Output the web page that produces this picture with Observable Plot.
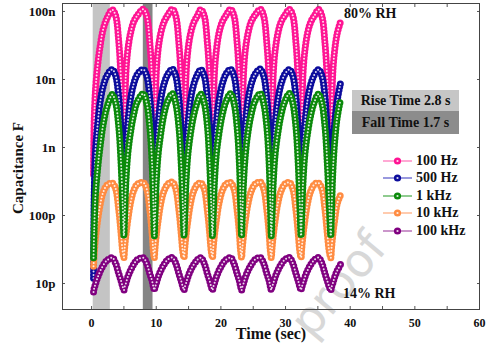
<!DOCTYPE html>
<html><head><meta charset="utf-8">
<script src="https://cdn.jsdelivr.net/npm/d3@7"></script>
<script src="https://cdn.jsdelivr.net/npm/@observablehq/plot@0.6"></script>
<style>
body{margin:0;background:#fff;}
#wrap{position:relative;width:496px;height:351px;overflow:hidden;font-family:"Liberation Serif","Times New Roman",serif;font-weight:bold;color:#111;}
#wm{position:absolute;left:338px;top:284px;transform:translate(-50%,-50%) rotate(-50deg);font-family:"DejaVu Sans",sans-serif;font-weight:normal;font-size:46px;color:#d8d8d8;white-space:nowrap;line-height:1;}
#chart{position:absolute;left:0;top:0;}
.lbl{position:absolute;white-space:nowrap;}
.box{position:absolute;left:352px;width:107px;text-align:center;font-size:14px;}
.leg{position:absolute;left:383px;height:16px;display:flex;align-items:center;font-size:14px;white-space:nowrap;}
</style></head><body>
<div id="wrap">
<div id="wm">proof</div>
<div id="chart"></div>
<div class="lbl" id="xlab" style="left:271px;top:325px;transform:translateX(-50%);font-size:16px;">Time (sec)</div>
<div class="lbl" id="ylab" style="left:18px;top:168px;transform:translate(-50%,-50%) rotate(-90deg);font-size:15px;">Capacitance F</div>
<div class="lbl" style="left:344px;top:6px;font-size:14px;">80% RH</div>
<div class="lbl" style="left:343px;top:286px;font-size:14px;">14% RH</div>
<div class="box" style="top:90px;height:21px;line-height:21px;background:#c6c6c6;">Rise Time 2.8 s</div>
<div class="box" style="top:111px;height:23px;line-height:23px;background:#8c8c8c;">Fall Time 1.7 s</div>
<div id="legend"></div>
</div>
<script>
// time (s), shared sampling of all five series
const time = [
 0.3,0.4,0.6,0.9,1.3,1.8,2.4,3.2,3.7,4.2,4.55,4.8,
 5.0,5.1,5.3,5.6,6.0,6.5,7.1,8.0,8.5,9.0,9.35,9.55,
 9.7,9.8,10.0,10.3,10.7,11.2,11.8,12.5,13.0,13.5,13.85,14.1,
 14.3,14.4,14.6,14.9,15.3,15.8,16.4,16.9,17.4,17.9,18.25,18.5,
 18.7,18.8,19.0,19.3,19.7,20.2,20.8,21.5,22.0,22.5,22.85,23.05,
 23.2,23.3,23.5,23.8,24.2,24.7,25.3,26.1,26.6,27.1,27.45,27.65,
 27.8,27.9,28.1,28.4,28.8,29.3,29.9,30.6,31.1,31.6,31.95,32.2,
 32.4,32.5,32.7,33.0,33.4,33.9,34.5,35.1,35.6,36.1,36.45,36.75,
 37.0,37.1,37.3,37.6,38.0,38.5];
// capacitance in nF
const hz100 = [
 0.4,2.5,7,15,30,55,80,106,88,36,10,2,
 0.15,1.5,12,27,47,70,88,108,88,35,10,2,
 0.15,1.6,12,28,48,70,89,108,87,34,10,2,
 0.15,1.5,11,27,47,69,88,107,88,35,11,2,
 0.15,1.5,12,27,48,70,88,108,88,35,10,2,
 0.15,1.6,12,28,48,71,89,108,87,34,10,2,
 0.15,1.5,12,27,47,70,88,107,88,35,10,2,
 0.15,1.5,12,27,48,70,88,107,87,34,10,2,
 0.15,1.5,12,27,48,70];
const hz500 = [
 0.012,0.2,0.9,2.0,4.5,8,11.5,14,11.5,5.5,1.8,0.5,
 0.06,0.35,1.0,2.3,5,8.5,12,14,11.5,5.5,1.8,0.5,
 0.06,0.36,1.0,2.3,5.1,8.6,12,14.2,11.4,5.4,1.8,0.5,
 0.06,0.35,1.0,2.2,5,8.5,12,14,11.5,5.5,1.9,0.5,
 0.06,0.35,1.0,2.3,5,8.5,12.1,14.1,11.5,5.5,1.8,0.5,
 0.06,0.36,1.0,2.3,5.1,8.6,12,14.2,11.4,5.4,1.8,0.5,
 0.06,0.35,1.0,2.3,5,8.5,12,14,11.5,5.5,1.8,0.5,
 0.06,0.35,1.0,2.3,5,8.5,12,14,11.5,5.5,1.8,0.5,
 0.06,0.35,1.0,2.3,5,8.8];
const khz1 = [
 0.024,0.06,0.2,0.45,1.0,2.2,4.0,6.0,4.6,2.0,0.6,0.15,
 0.05,0.09,0.3,0.8,1.6,3.0,4.8,6.2,4.6,2.0,0.6,0.15,
 0.05,0.09,0.3,0.8,1.6,3.1,4.9,6.2,4.5,2.0,0.6,0.15,
 0.05,0.09,0.3,0.8,1.6,3.0,4.8,6.1,4.6,2.1,0.6,0.15,
 0.05,0.09,0.3,0.8,1.6,3.0,4.8,6.2,4.6,2.0,0.6,0.15,
 0.05,0.09,0.3,0.8,1.7,3.1,4.9,6.2,4.5,2.0,0.6,0.15,
 0.05,0.09,0.3,0.8,1.6,3.0,4.8,6.2,4.6,2.0,0.6,0.15,
 0.05,0.09,0.3,0.8,1.6,3.0,4.8,6.1,4.6,2.0,0.6,0.15,
 0.05,0.1,0.4,1.2,2.8,5.0];
const khz10 = [
 0.018,0.026,0.045,0.08,0.14,0.22,0.28,0.30,0.25,0.12,0.055,0.03,
 0.024,0.032,0.05,0.085,0.15,0.23,0.29,0.305,0.25,0.12,0.055,0.03,
 0.024,0.032,0.05,0.085,0.15,0.23,0.29,0.31,0.25,0.12,0.055,0.03,
 0.024,0.032,0.05,0.085,0.15,0.23,0.29,0.30,0.25,0.12,0.056,0.03,
 0.024,0.032,0.05,0.085,0.15,0.23,0.29,0.305,0.25,0.12,0.055,0.03,
 0.024,0.032,0.05,0.086,0.15,0.23,0.29,0.31,0.25,0.12,0.055,0.03,
 0.024,0.032,0.05,0.085,0.15,0.23,0.29,0.305,0.25,0.12,0.055,0.03,
 0.024,0.032,0.05,0.085,0.15,0.23,0.29,0.30,0.25,0.12,0.055,0.03,
 0.024,0.032,0.05,0.085,0.15,0.2];
const khz100 = [
 0.0075,0.0085,0.0098,0.012,0.015,0.0185,0.022,0.024,0.02,0.014,0.011,0.009,
 0.008,0.0088,0.01,0.0125,0.0155,0.019,0.0225,0.024,0.02,0.014,0.011,0.009,
 0.008,0.0088,0.01,0.0125,0.0155,0.019,0.0225,0.024,0.02,0.014,0.011,0.009,
 0.008,0.0088,0.01,0.0125,0.0155,0.019,0.0225,0.024,0.02,0.014,0.011,0.009,
 0.008,0.0088,0.01,0.0125,0.0155,0.019,0.0225,0.024,0.02,0.014,0.011,0.009,
 0.008,0.0088,0.01,0.0125,0.0155,0.019,0.0225,0.024,0.02,0.014,0.011,0.009,
 0.008,0.0088,0.01,0.0125,0.0155,0.019,0.0225,0.024,0.02,0.014,0.011,0.009,
 0.008,0.0088,0.01,0.0125,0.0155,0.019,0.0225,0.024,0.02,0.014,0.011,0.009,
 0.008,0.0088,0.01,0.0125,0.0155,0.019];

const seriesNames = ["100 Hz","500 Hz","1 kHz","10 kHz","100 kHz"];
const seriesValues = [hz100, hz500, khz1, khz10, khz100];
const seriesColors = ["#ff1493","#0c0c9c","#0b8a0b","#ff8c42","#800080"];
const legendLineColors = ["#ff70b8","#5555c8","#45a845","#ffa878","#a850a8"];
const drawOrder = [0,1,3,2,4];

const xTicks = [0,10,20,30,40,50,60];
const xMinor = [0,5,10,15,20,25,30,35,40,45,50,55,60];
const yTickValues = [0.01,0.1,1,10,100];
const yTickLabels = ["10p","100p","1n","10n","100n"];
const riseBand = [{x1:0.25, x2:2.9}];
const fallBand = [{x1:8.0, x2:9.5}];

const yLabel = new Map(yTickValues.map((v,i)=>[v,yTickLabels[i]]));
const marks = [
  Plot.rect(riseBand, {x1:"x1", x2:"x2", fill:"#c4c4c4"}),
  Plot.rect(fallBand, {x1:"x1", x2:"x2", fill:"#858585"})
];
for (const k of drawOrder) {
  const rows = time.map((t,i)=>({t, v: seriesValues[k][i]}));
  marks.push(Plot.line(rows, {x:"t", y:"v", stroke: seriesColors[k], strokeWidth: 1, curve:"catmull-rom"}));
  marks.push(Plot.line(rows, {x:"t", y:"v", stroke: seriesColors[k], strokeWidth: 7, strokeDasharray:"0 3.3", strokeLinecap:"round", curve:"catmull-rom"}));
  marks.push(Plot.line(rows, {x:"t", y:"v", stroke: "white", strokeOpacity: 0.85, strokeWidth: 2, strokeDasharray:"0 3.3", strokeLinecap:"round", curve:"catmull-rom"}));
}
marks.push(
  Plot.axisX({ticks: xTicks, tickSize: 0, tickPadding: 9, fontSize: 12, label: null}),
  Plot.axisX({anchor:"bottom", ticks: xMinor, tickSize: -3, text: null, label: null, stroke:"#555"}),
  Plot.axisX({anchor:"top", ticks: xMinor, tickSize: -3, text: null, label: null, stroke:"#555"}),
  Plot.axisY({ticks: yTickValues, tickFormat: d => yLabel.get(d), tickSize: 0, tickPadding: 7, fontSize: 13, label: null}),
  Plot.axisY({anchor:"left", ticks: yTickValues, tickSize: -3, text: null, label: null, stroke:"#555"}),
  Plot.axisY({anchor:"right", ticks: yTickValues, tickSize: -3, text: null, label: null, stroke:"#555"}),
  Plot.frame({stroke:"#444"})
);

const chart = Plot.plot({
  width: 496, height: 351,
  marginLeft: 62, marginRight: 17, marginTop: 3, marginBottom: 42,
  x: {domain: [-4.5, 60]},
  y: {type: "log", domain: [0.00415, 131]},
  style: {fontFamily: "'Liberation Serif','Times New Roman',serif", fontWeight: "bold", fontSize: "12px", background: "transparent", color: "#111", overflow: "visible"},
  marks
});
document.getElementById("chart").appendChild(chart);

const legendTops = [153, 170.3, 188, 205.3, 222.7];
const legend = document.getElementById("legend");
seriesNames.forEach((name, i) => {
  const row = document.createElement("div");
  row.className = "leg";
  row.style.top = legendTops[i] + "px";
  row.innerHTML = `<svg width="30" height="10" style="margin-right:3px"><line x1="0" y1="5" x2="29" y2="5" stroke="${legendLineColors[i]}" stroke-width="1.2"/><circle cx="14.5" cy="5" r="3.6" fill="${seriesColors[i]}"/><circle cx="14.5" cy="5" r="1.1" fill="white" opacity="0.85"/></svg><span>${name}</span>`;
  legend.appendChild(row);
});
</script>
</body></html>
